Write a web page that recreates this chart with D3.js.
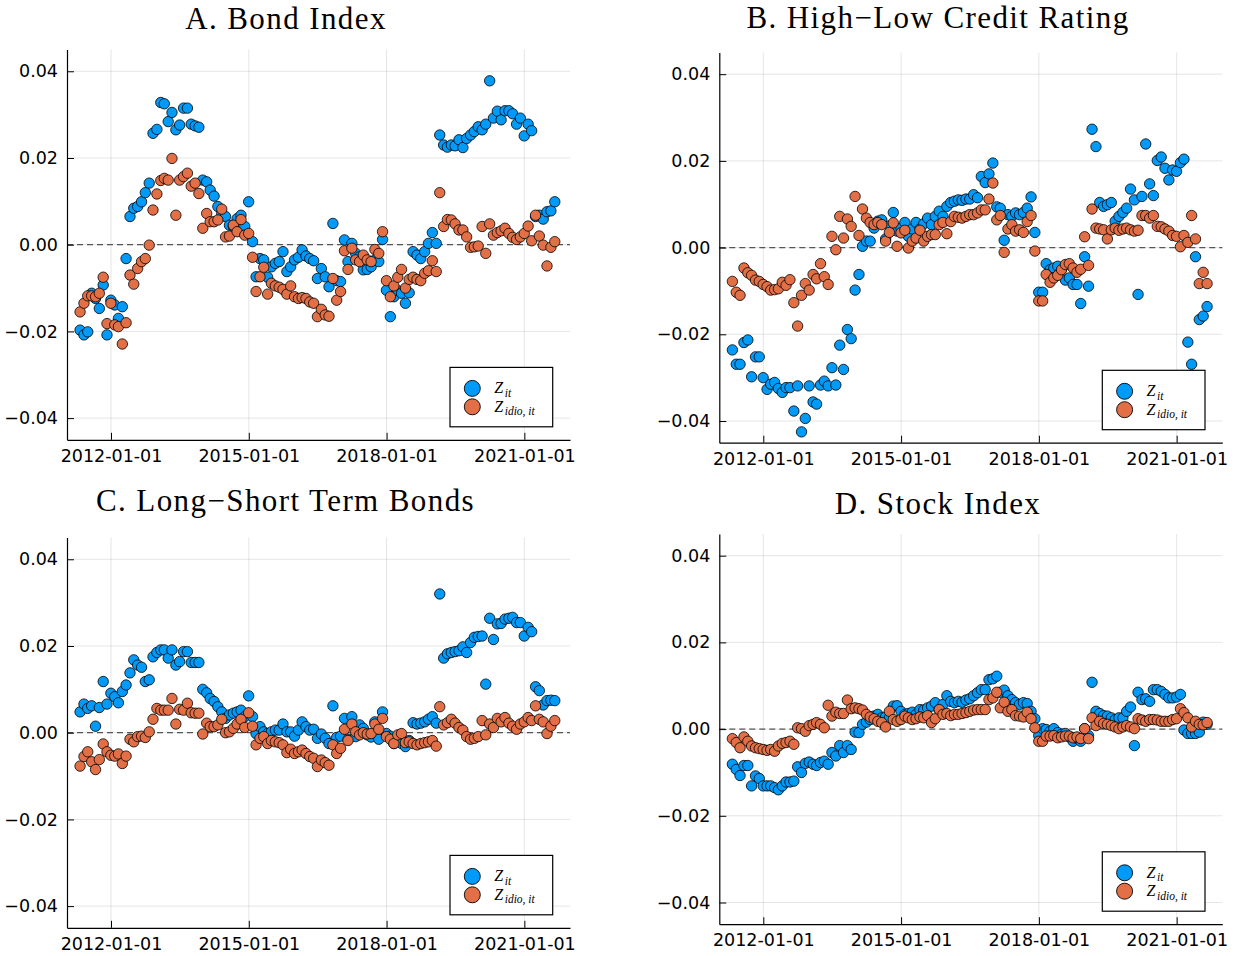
<!DOCTYPE html>
<html>
<head>
<meta charset="utf-8">
<script src="https://cdn.jsdelivr.net/npm/d3@7"></script>
<style>
  body { margin: 0; background: #fff; }
  svg { display: block; }
  .tick text { font-family: "DejaVu Sans", sans-serif; font-size: 17.5px; fill: #000; }
  .title { font-family: "Liberation Serif", serif; font-size: 31px; letter-spacing: 1.4px; }
  .legend text { font-family: "Liberation Serif", serif; font-style: italic; }
</style>
</head>
<body>
<div id="chart"></div>
<script>
// monthly observations from 2011-04 (month end), 125 of them
// values are read off the picture, in units of 1e-3
const firstMonth = [2011, 3];
const nMonths = 125;
const xTicks = ["2012-01-01", "2015-01-01", "2018-01-01", "2021-01-01"];
const yTicks = [-0.04, -0.02, 0, 0.02, 0.04];
const titles = ["A. Bond Index", "B. High\u2212Low Credit Rating", "C. Long\u2212Short Term Bonds", "D. Stock Index"];

const bondZ = [-19.7,-20.8,-20.1,-11.2,-12.4,-14.7,-9.3,-20.8,-12.8,-13.9,
  -17.0,-14.3,-3.2,6.5,8.4,8.8,9.9,12.0,14.2,25.7,
  26.6,32.8,32.5,28.4,30.5,26.5,27.6,31.5,31.5,27.8,
  27.4,27.1,14.9,14.5,12.6,11.2,8.8,7.2,6.5,4.5,
  4.2,6.0,6.8,4.2,9.9,0.7,-7.4,-3.2,-3.5,-7.5,
  -5.1,-4.3,-3.9,-1.6,-6.2,-5.1,-3.5,-2.9,-1.2,-2.6,
  -3.2,-3.7,-7.8,-5.5,-7.4,-9.7,4.9,-8.3,-8.5,1.1,
  -3.9,0.3,-2.0,-2.8,-5.8,-5.7,-5.1,-3.5,-3.9,1.2,
  -10.5,-16.6,-12.0,-10.6,-11.2,-13.5,-11.1,-1.6,-2.4,-3.2,
  -1.6,0.3,2.8,0.3,25.3,23.0,22.5,23.0,22.8,24.2,
  22.4,24.5,25.3,26.1,27.2,26.5,27.8,37.8,29.2,30.8,
  28.8,30.9,30.9,30.2,27.8,29.2,25.1,27.8,26.3,6.5,
  6.8,5.9,7.6,7.8,9.9];
const bondIdio = [-15.5,-13.5,-11.8,-11.8,-12.0,-11.2,-7.5,-18.2,-13.5,-18.5,
  -18.9,-22.9,-18.0,-7.0,-9.1,-5.5,-3.9,-3.2,-0.1,8.0,
  11.7,14.8,15.3,14.9,19.9,6.8,14.9,15.7,16.5,13.5,
  14.2,11.8,3.8,7.2,5.3,5.3,5.7,8.2,1.8,2.0,
  4.5,3.0,5.8,2.2,2.6,-2.9,-10.8,-7.4,-5.2,-11.4,
  -8.9,-9.5,-9.8,-10.3,-11.4,-9.5,-12.0,-12.4,-12.2,-12.4,
  -13.2,-13.5,-16.6,-14.9,-16.2,-16.5,-7.8,-12.8,-10.8,-1.4,
  -5.7,-0.8,-3.5,-3.9,-2.4,-3.5,-3.9,-1.1,-2.0,3.0,
  -8.3,-12.0,-9.5,-7.5,-5.7,-10.0,-8.0,-7.5,-8.0,-8.3,
  -6.6,-6.0,-3.7,-6.2,12.0,4.2,5.8,5.7,4.8,3.4,
  3.4,1.8,-0.6,-0.5,-0.3,4.2,-2.0,4.8,2.2,2.8,
  3.2,3.8,2.6,1.7,1.2,1.8,2.6,4.3,0.9,6.8,
  2.0,-0.1,-4.9,-0.6,0.7];

const creditZ = [-23.6,-26.9,-26.9,-21.9,-21.3,-29.8,-25.2,-25.2,-30.0,-32.7,
  -31.5,-31.1,-32.5,-33.4,-32.3,-32.3,-37.7,-31.9,-42.5,-39.4,
  -31.9,-35.6,-36.1,-31.7,-30.8,-31.9,-27.7,-31.7,-22.5,-28.1,
  -18.9,-21.0,-9.8,-6.2,0.3,1.5,1.5,4.5,6.1,6.4,
  2.0,5.0,8.1,3.8,4.5,5.8,2.6,4.3,5.8,4.3,
  5.5,6.8,5.3,7.2,8.4,7.2,9.5,10.4,10.7,11.0,
  10.9,11.2,11.2,12.2,11.5,16.4,15.0,17.0,19.5,9.4,
  9.1,1.7,7.6,7.2,8.0,7.6,8.1,9.1,11.7,3.5,
  -10.3,-10.3,-3.7,-5.1,-4.7,-4.3,-5.1,-7.5,-7.0,-8.5,
  -8.5,-12.9,-2.1,-8.9,27.3,23.3,10.4,9.5,9.9,10.4,
  6.1,7.2,8.1,9.1,13.5,11.0,-10.8,11.8,23.9,14.7,
  12.0,20.1,20.9,18.3,15.6,17.9,17.6,19.6,20.4,-21.8,
  -26.9,-2.1,-16.6,-15.8,-13.6];
const creditIdio = [-7.8,-10.3,-11.0,-4.7,-5.8,-6.4,-7.5,-7.8,-8.5,-9.0,
  -9.8,-9.7,-9.5,-8.0,-8.7,-7.4,-12.7,-18.1,-11.0,-8.3,
  -9.8,-6.2,-7.2,-3.7,-6.7,-8.5,2.6,-0.5,7.2,2.2,
  6.6,4.9,11.8,2.8,8.9,6.8,5.8,5.3,5.8,5.3,
  1.5,3.5,5.7,0.3,3.4,4.0,-0.1,1.5,2.2,4.0,
  1.5,2.6,3.0,3.0,5.3,5.8,3.2,6.0,7.2,7.0,
  6.8,7.2,7.6,7.6,8.0,8.7,8.7,11.2,14.9,6.4,
  7.4,-1.1,4.3,5.3,3.8,4.1,3.5,6.0,7.4,-0.8,
  -12.3,-12.3,-6.2,-8.0,-7.0,-6.4,-5.1,-3.9,-3.7,-4.7,
  -5.7,-5.0,2.5,-4.1,8.9,4.5,4.3,4.1,2.0,4.1,
  4.5,4.0,4.3,4.5,4.1,3.8,4.0,7.4,7.4,6.8,
  7.4,4.9,4.8,4.3,3.8,2.8,2.6,0.2,2.8,1.2,
  7.4,2.0,-8.3,-5.7,-8.3];

const termZ = [4.8,6.6,5.6,6.2,1.5,5.8,11.8,6.6,9.1,8.3,
  6.9,9.5,11.0,13.8,16.8,15.6,15.1,11.8,12.2,17.5,
  18.5,19.1,19.1,17.2,19.1,15.6,16.4,18.7,18.7,16.2,
  16.2,16.2,10.0,9.2,7.9,7.2,6.0,4.8,3.3,4.1,
  4.5,4.8,5.2,3.7,8.5,3.7,-0.2,1.4,0.2,-0.2,
  0.2,0.6,0.6,2.0,0.2,0.2,-0.8,0.6,2.5,1.4,
  0.6,0.8,-1.3,-0.3,-1.3,-2.5,6.2,-1.1,-0.8,3.3,
  -1.5,3.7,-0.9,1.8,1.0,-0.5,-1.0,2.5,-1.5,4.8,
  -0.2,-0.8,-2.5,-1.7,-2.5,-3.2,-1.8,2.3,2.0,2.2,
  2.5,3.1,3.7,2.2,32.0,17.2,18.2,18.5,18.7,18.9,
  19.8,18.5,20.8,22.0,22.2,22.3,11.2,26.4,21.5,25.1,
  25.2,26.2,26.4,26.6,25.4,25.4,22.3,24.3,23.3,10.6,
  9.7,6.4,7.4,7.5,7.4];
const termIdio = [-7.7,-5.5,-4.4,-6.7,-8.5,-6.2,-2.6,-4.4,-5.2,-5.4,
  -4.9,-7.1,-5.4,-1.5,-2.1,-0.9,-0.8,-1.1,0.2,3.1,
  5.6,5.2,5.2,5.2,7.9,2.0,5.4,5.2,6.8,4.6,
  4.5,4.5,-0.3,2.2,1.4,1.4,1.8,3.1,0.0,0.2,
  1.0,2.0,3.1,1.2,4.6,1.5,-2.8,-1.3,-0.9,-2.5,
  -1.8,-2.1,-2.3,-2.8,-4.6,-3.8,-4.8,-4.4,-4.0,-4.8,
  -5.5,-5.9,-7.8,-6.3,-6.9,-7.5,-2.8,-4.8,-3.6,0.8,
  -1.8,2.0,0.2,-0.5,0.0,-0.3,-0.2,2.0,0.8,3.3,
  -0.9,-1.5,-2.5,-0.5,-0.2,-2.3,-2.1,-2.5,-2.8,-2.5,
  -2.3,-2.1,-1.8,-3.1,6.0,1.8,2.3,3.1,2.2,1.2,
  0.6,-0.9,-1.5,-1.3,-0.9,2.8,-0.5,2.0,1.2,3.3,
  2.5,3.5,2.2,1.5,0.8,2.0,2.5,3.5,2.8,6.2,
  3.1,2.5,-0.2,1.5,2.8];

const stockZ = [-8.1,-9.3,-10.7,-8.4,-8.4,-13.1,-10.8,-11.4,-13.1,-13.1,
  -13.1,-13.5,-14.0,-13.1,-12.2,-12.2,-12.0,-8.7,-10.0,-7.9,
  -7.6,-8.1,-8.4,-7.7,-7.4,-8.1,-5.4,-6.2,-3.8,-5.4,
  -3.8,-4.7,-0.7,-0.8,1.1,1.6,2.2,3.0,3.4,2.6,
  2.8,2.6,5.3,5.4,4.1,3.4,3.6,3.9,3.4,4.5,
  4.4,4.9,5.3,6.1,4.5,5.7,7.7,6.4,6.1,6.4,
  6.2,6.7,7.0,7.7,8.4,9.1,9.1,11.4,11.6,12.2,
  8.5,9.0,7.7,6.8,6.1,5.7,6.1,5.9,4.1,2.4,
  -1.5,0.1,-0.1,-0.5,0.1,-0.8,-1.2,-1.0,-1.8,-2.8,
  -2.2,-2.8,0.1,-1.5,10.8,4.1,3.6,3.1,3.0,2.6,
  2.2,2.6,2.6,4.1,5.1,-3.8,8.5,6.8,7.0,6.4,
  9.1,9.1,8.7,8.0,7.2,7.2,7.4,8.0,-0.2,-1.0,
  -1.0,-1.0,-0.7,1.6,1.1];
const stockIdio = [-2.2,-3.1,-4.3,-1.8,-2.8,-3.9,-4.3,-4.5,-4.7,-4.9,
  -4.7,-5.1,-3.9,-3.3,-3.1,-2.8,-3.5,0.3,0.1,-0.5,
  0.8,1.1,1.5,1.1,0.3,5.5,3.0,3.9,3.6,3.6,
  6.7,4.7,4.9,4.7,4.4,3.4,2.8,2.4,1.8,1.5,
  0.5,4.1,2.2,1.8,2.2,3.0,2.6,2.2,2.4,2.8,
  2.6,3.1,1.5,2.4,4.5,3.4,3.6,3.1,3.4,3.4,
  3.6,3.8,4.1,4.4,4.5,4.5,4.5,6.8,7.2,8.5,
  4.9,6.2,4.1,4.5,3.1,3.0,2.8,3.9,2.4,0.3,
  -2.8,-2.8,-1.6,-1.6,-1.5,-2.0,-1.8,-1.6,-1.6,-2.0,
  -1.8,-2.2,0.1,-2.2,2.6,0.8,1.8,1.3,1.1,0.8,
  0.5,0.1,0.5,0.8,0.5,0.1,2.4,2.1,1.8,2.2,
  2.2,2.1,1.8,1.8,1.8,2.2,2.4,4.7,3.8,2.6,
  0.5,1.8,1.1,1.0,1.5];

const colors = ["#009af9", "#e36f47"];

// layout
const W = 1237, H = 956;
const pw = 503, ph = 390.2;
const panels = [
  { title: titles[0], z: bondZ, idio: bondIdio, x: 67, y: 49.6, tx: 286, ty: 29 },
  { title: titles[1], z: creditZ, idio: creditIdio, x: 719.3, y: 52.5, tx: 938, ty: 27.5 },
  { title: titles[2], z: termZ, idio: termIdio, x: 67, y: 537.6, tx: 285.5, ty: 511 },
  { title: titles[3], z: stockZ, idio: stockIdio, x: 719.3, y: 534, tx: 938, ty: 514 },
];

const parse = d3.timeParse("%Y-%m-%d");
const dates = d3.range(nMonths).map(i => new Date(firstMonth[0], firstMonth[1] + i + 1, 0));

const x = d3.scaleTime()
  .domain([new Date(2011, 0, 16), new Date(2021, 11, 30)])
  .range([0, pw]);
const y = d3.scaleLinear().domain([-0.045, 0.045]).range([ph, 0]);

const svg = d3.select("#chart").append("svg")
  .attr("width", W).attr("height", H);
svg.append("rect").attr("width", W).attr("height", H).attr("fill", "#fff");

panels.forEach(p => {
  svg.append("text").attr("class", "title")
    .attr("x", p.tx).attr("y", p.ty)
    .attr("text-anchor", "middle")
    .text(p.title);

  const g = svg.append("g").attr("transform", `translate(${p.x},${p.y})`);

  // grid
  g.append("g").selectAll("line").data(xTicks.map(parse)).join("line")
    .attr("x1", d => x(d)).attr("x2", d => x(d))
    .attr("y1", 0).attr("y2", ph)
    .attr("stroke", "#000").attr("stroke-opacity", 0.1).attr("stroke-width", 1);
  g.append("g").selectAll("line").data(yTicks).join("line")
    .attr("x1", 0).attr("x2", pw)
    .attr("y1", d => y(d)).attr("y2", d => y(d))
    .attr("stroke", "#000").attr("stroke-opacity", 0.1).attr("stroke-width", 1);

  // zero line
  g.append("line")
    .attr("x1", 0).attr("x2", pw).attr("y1", y(0)).attr("y2", y(0))
    .attr("stroke", "#555").attr("stroke-width", 1.3)
    .attr("stroke-dasharray", "6,4");

  // axes
  const xa = g.append("g").attr("transform", `translate(0,${ph})`)
    .call(d3.axisBottom(x).tickValues(xTicks.map(parse))
      .tickFormat(d3.timeFormat("%Y-%m-%d"))
      .tickSizeInner(-7).tickSizeOuter(0).tickPadding(9.5));
  const ya = g.append("g")
    .call(d3.axisLeft(y).tickValues(yTicks)
      .tickFormat(d3.format(".2f"))
      .tickSizeInner(-7).tickSizeOuter(0).tickPadding(9));
  [xa, ya].forEach(a => {
    a.select(".domain").attr("stroke", "#000").attr("stroke-width", 1.2);
    a.selectAll(".tick line").attr("stroke", "#000").attr("stroke-width", 1);
  });

  // points: Z first, idiosyncratic on top
  [p.z, p.idio].forEach((vals, k) => {
    g.append("g").selectAll("circle")
      .data(vals.map((v, i) => ({ date: dates[i], value: v / 1000 })))
      .join("circle")
      .attr("cx", d => x(d.date))
      .attr("cy", d => y(d.value))
      .attr("r", 5.2)
      .attr("fill", colors[k])
      .attr("stroke", "#000").attr("stroke-width", 0.8);
  });

  // legend
  const lg = g.append("g").attr("class", "legend")
    .attr("transform", `translate(${pw - 17.3 - 102.7},${ph - 13 - 59.4})`);
  lg.append("rect").attr("width", 102.7).attr("height", 59.4)
    .attr("fill", "#fff").attr("stroke", "#000").attr("stroke-width", 1.2);
  const subs = ["it", "idio, it"];
  subs.forEach((s, k) => {
    lg.append("circle").attr("cx", 22.3).attr("cy", 21 + k * 18.4).attr("r", 8)
      .attr("fill", colors[k]).attr("stroke", "#000").attr("stroke-width", 0.9);
    const t = lg.append("text").attr("x", 44.3).attr("y", 26 + k * 18.4)
      .attr("font-size", 16);
    t.append("tspan").text("Z");
    t.append("tspan").attr("font-size", 11.5).attr("dx", 1.5).attr("dy", 3.5).text(s);
  });
});
</script>
</body>
</html>
